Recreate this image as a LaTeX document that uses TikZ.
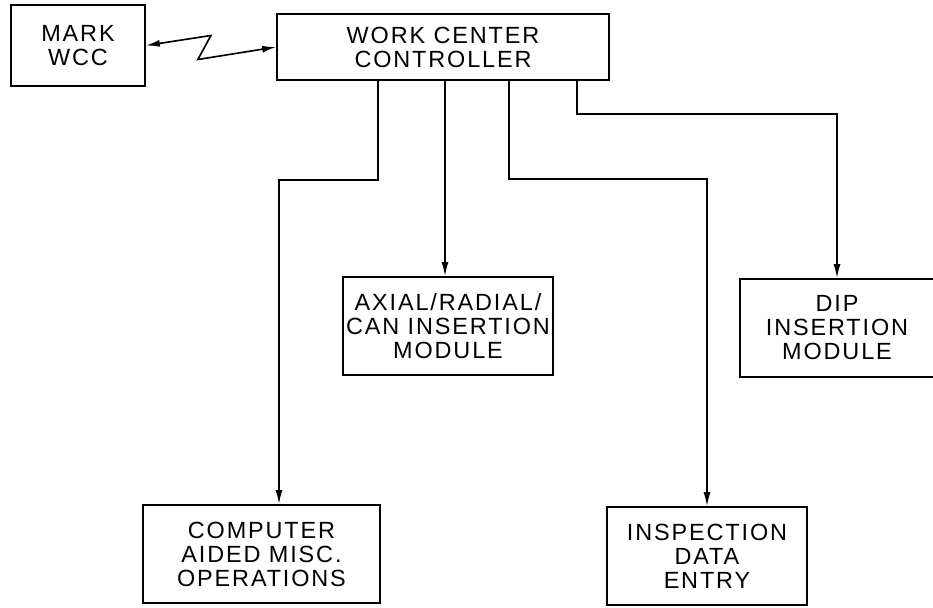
\documentclass[tikz,border=0pt]{standalone}
\usepackage{fontspec}
\newfontfamily\plotfont{Liberation Sans}[LetterSpace=8]
\usetikzlibrary{arrows.meta}
\begin{document}
\begin{tikzpicture}[x=0.3mm,y=-0.3mm,
  box/.style={draw,line width=1.5pt,align=center,inner sep=0pt,
    font=\plotfont\fontsize{20}{20.5}\selectfont},
  arr/.style={line width=1.4pt,-{Latex[length=4.2mm,width=2.1mm]}}]
% Fix the frame
\clip (0,0) rectangle (933,607);

% Draw boxes
\node[box,minimum width=134*0.3mm,minimum height=81*0.3mm] (mark) at (78,45.5) {MARK\\WCC};
\node[box,minimum width=332*0.3mm,minimum height=66*0.3mm] (wcc) at (443,47) {WORK CENTER\\CONTROLLER};
\node[box,minimum width=210*0.3mm,minimum height=98*0.3mm] (axial) at (448,326) {AXIAL/RADIAL/\\CAN INSERTION\\MODULE};
\node[box,minimum width=194*0.3mm,minimum height=98*0.3mm] (dip) at (837,328) {DIP\\INSERTION\\MODULE};
\node[box,minimum width=237*0.3mm,minimum height=98*0.3mm] (cam) at (261.5,554) {COMPUTER\\AIDED MISC.\\OPERATIONS};
\node[box,minimum width=200*0.3mm,minimum height=98*0.3mm] (insp) at (707,556) {INSPECTION\\DATA\\ENTRY};

% Taps on the controller
\coordinate (t1) at ([xshift=-19.5mm]wcc.south);
\coordinate (t2) at ([xshift=0.6mm]wcc.south);
\coordinate (t3) at ([xshift=19.8mm]wcc.south);
\coordinate (t4) at ([xshift=40.2mm]wcc.south);

% Draw link to the other controller
\draw[line width=1.4pt,{Latex[length=4.2mm,width=2.1mm]}-{Latex[length=4.2mm,width=2.1mm]}]
  (mark.east) -- ++(65,-10) -- ++(-13,24) -- (wcc.west);

% Draw connectors
\draw[arr] (t1) -- ++(0,99) -| ([xshift=5.25mm]cam.north);
\draw[arr] (t2) -- (t2 |- axial.north);
\draw[arr] (t3) -- ++(0,98) -| (insp.north);
\draw[arr] (t4) -- ++(0,33) -| (dip.north);

\end{tikzpicture}
\end{document}
